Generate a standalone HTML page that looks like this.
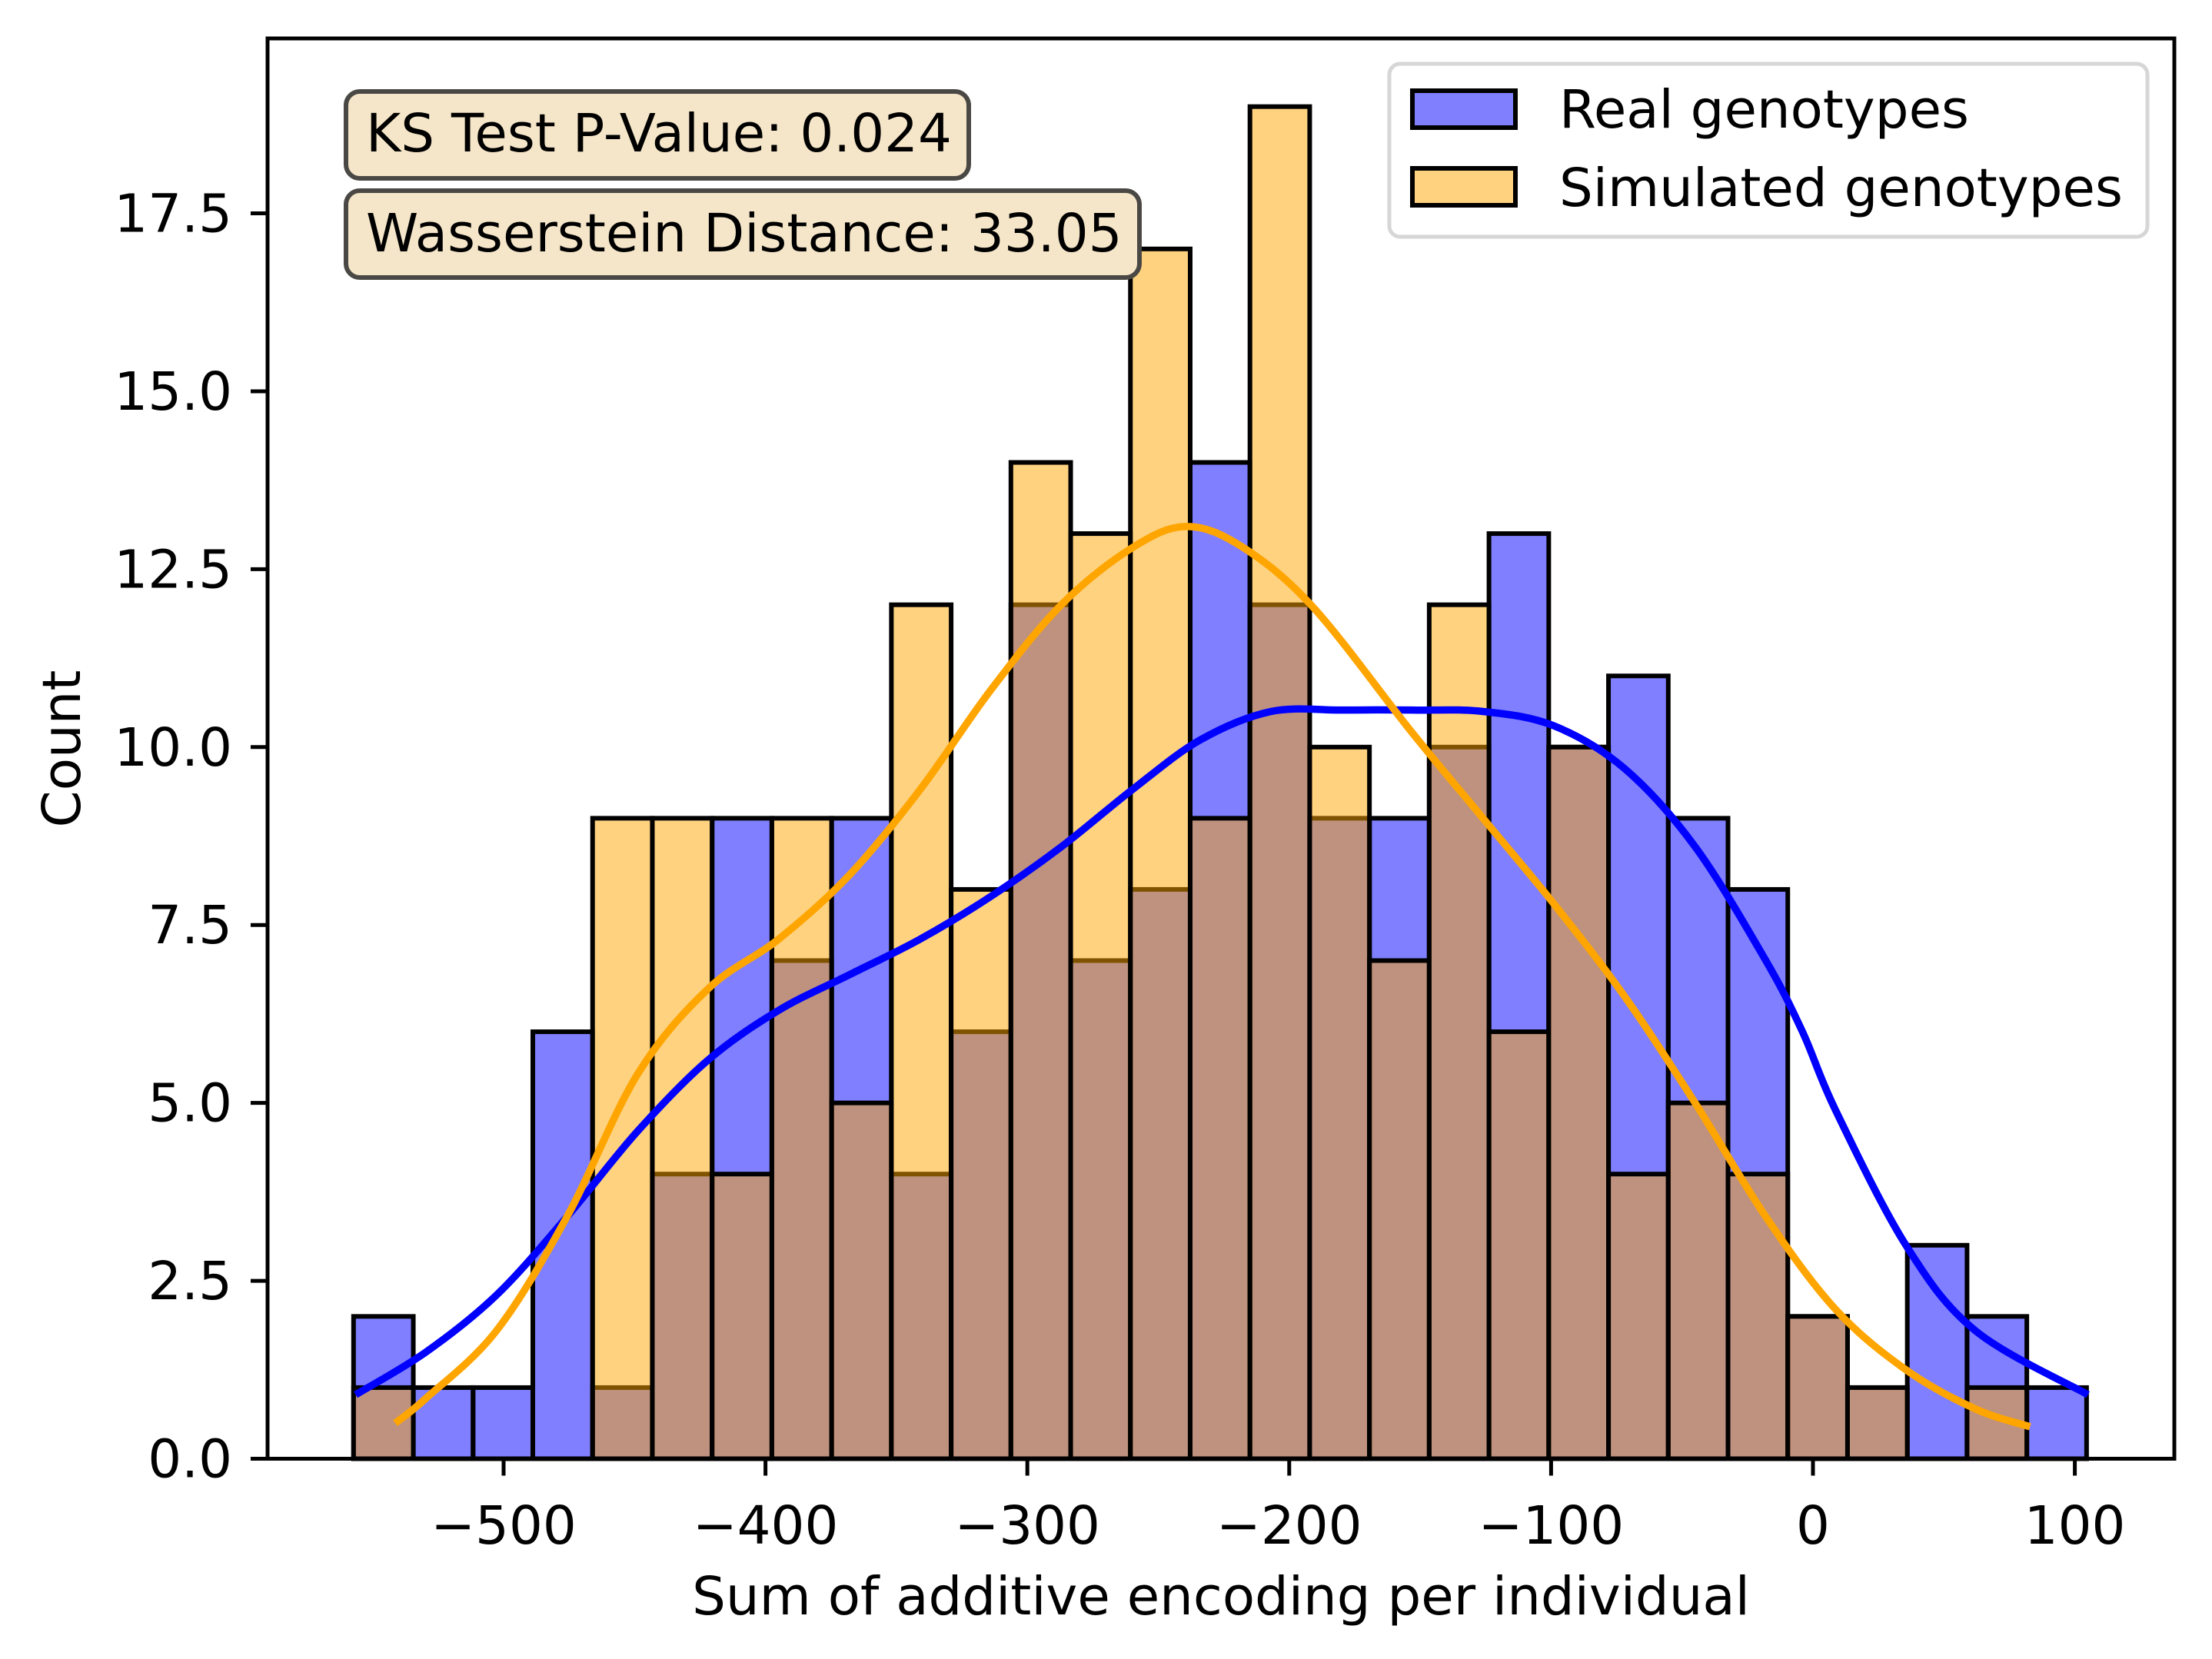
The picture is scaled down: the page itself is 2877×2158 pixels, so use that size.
<!DOCTYPE html>
<html><head><meta charset="utf-8"><style>
html,body{margin:0;padding:0;background:#fff;}
svg{display:block;font-family:"DejaVu Sans","Liberation Sans",sans-serif;}
</style></head><body>
<svg id="chart" width="2877" height="2158" viewBox="0 0 2877 2158" xmlns="http://www.w3.org/2000/svg">
<rect x="0" y="0" width="2877" height="2158" fill="#fff"/>
<g id="bars"></g>
<g id="lines"></g>
<g id="axes"></g>
<g>
<rect x="450" y="119" width="810" height="113" rx="18" fill="#f5e6c9" stroke="#4a4844" stroke-width="6"/>
<text x="476" y="197" font-size="69" fill="#000">KS Test P-Value: 0.024</text>
</g>
<g>
<rect x="450" y="248" width="1032" height="113" rx="18" fill="#f5e6c9" stroke="#4a4844" stroke-width="6"/>
<text x="476" y="327" font-size="69" fill="#000">Wasserstein Distance: 33.05</text>
</g>
<g>
<rect x="1807" y="83" width="986" height="225" rx="14" fill="#fff" fill-opacity="0.8" stroke="#d6d6d6" stroke-width="5"/>
<g>
<rect x="1837" y="118" width="134" height="48" fill="#8080ff" stroke="#000" stroke-width="6"/>
<text x="2028" y="166" font-size="69">Real genotypes</text>
</g>
<g>
<rect x="1837" y="219" width="134" height="48" fill="#ffd280" stroke="#000" stroke-width="6"/>
<text x="2028" y="268" font-size="69">Simulated genotypes</text>
</g>
</g>
</svg>
<script>
const binStart = -557.3;
const binWidth = 22.82;
const realCounts = [2,1,1,6,1,4,9,7,9,4,6,12,7,8,14,12,9,9,10,13,10,11,9,8,2,1,3,2,1];
const simCounts  = [1,0,0,0,9,9,4,9,5,12,8,14,13,17,9,19,10,7,12,6,10,4,5,4,2,1,0,1,0];
const realKdeX = [-556.5,-529.6,-502.7,-475.8,-448.9,-422,-395,-368,-341,-314,-287,-260,-234,-207,-180,-153,-126,-99,-72,-45,-18,-4,8.6,35.5,62,105];
const realKdeY = [0.9,1.5,2.3,3.4,4.6,5.6,6.3,6.8,7.3,7.9,8.6,9.4,10.1,10.5,10.52,10.52,10.5,10.3,9.7,8.6,7.0,6.0,4.9,3.0,1.8,0.9];
const simKdeX = [-541.4,-529.6,-502.7,-475.8,-448.9,-422,-395,-368,-341,-314,-287,-260,-239,-217.4,-190.5,-153,-126,-99,-72,-45,-18,8.6,35.5,62,82.9];
const simKdeY = [0.5,0.85,1.8,3.4,5.4,6.6,7.3,8.2,9.4,10.8,12.0,12.8,13.1,12.8,11.95,10.2,9.0,7.8,6.5,5.0,3.4,2.1,1.25,0.7,0.45];
const xTicks = [-500,-400,-300,-200,-100,0,100];
const yTicks = [0,2.5,5,7.5,10,12.5,15,17.5];
const yTickLabels = ["0.0","2.5","5.0","7.5","10.0","12.5","15.0","17.5"];

const NS = "http://www.w3.org/2000/svg";
const AX = {left:348, right:2828, top:50, bottom:1897.5};
function xs(v){ return 655 + (v + 500) * 3.406; }
function ys(v){ return 1897.5 - v * 92.57; }
function mk(tag, attrs, parent){ const e=document.createElementNS(NS,tag); for(const k in attrs) e.setAttribute(k,attrs[k]); parent.appendChild(e); return e; }

const bars = document.getElementById('bars');
function drawBars(counts, color, name){
  counts.forEach((c,i)=>{
    if(c<=0) return;
    const x0=xs(binStart+i*binWidth), x1=xs(binStart+(i+1)*binWidth);
    const r=mk('rect',{x:x0,y:ys(c),width:x1-x0,height:ys(0)-ys(c),fill:color,'fill-opacity':0.5,stroke:'#000','stroke-width':6},bars);
    
    
  });
}
drawBars(realCounts,'#0000ff','real');
drawBars(simCounts,'#ffa500','simulated');

const lines = document.getElementById('lines');
function smoothPath(xa, ya){
  const p = xa.map((x,i)=>[xs(x), ys(ya[i])]);
  let d = 'M'+p[0][0]+','+p[0][1];
  for(let i=0;i<p.length-1;i++){
    const p0=p[Math.max(0,i-1)], p1=p[i], p2=p[i+1], p3=p[Math.min(p.length-1,i+2)];
    const c1=[p1[0]+(p2[0]-p0[0])/6, p1[1]+(p2[1]-p0[1])/6];
    const c2=[p2[0]-(p3[0]-p1[0])/6, p2[1]-(p3[1]-p1[1])/6];
    d+=' C'+c1[0]+','+c1[1]+' '+c2[0]+','+c2[1]+' '+p2[0]+','+p2[1];
  }
  return d;
}
const l1 = mk('path',{d:smoothPath(realKdeX,realKdeY),fill:'none',stroke:'#0000ff','stroke-width':9.5,'stroke-linejoin':'round'},lines);


const l2 = mk('path',{d:smoothPath(simKdeX,simKdeY),fill:'none',stroke:'#ffa500','stroke-width':9.5,'stroke-linejoin':'round'},lines);



const axes = document.getElementById('axes');
const frame = mk('rect',{x:AX.left,y:AX.top,width:AX.right-AX.left,height:AX.bottom-AX.top,fill:'none',stroke:'#000','stroke-width':5},axes);


xTicks.forEach(v=>{
  const x=xs(v);
  const t=mk('line',{x1:x,x2:x,y1:AX.bottom,y2:AX.bottom+22,stroke:'#000','stroke-width':5},axes);
  
  
  const lb=mk('text',{x:x,y:2008,'font-size':69,'text-anchor':'middle'},axes);
  lb.textContent = (v<0?'\u2212':'')+Math.abs(v);
  
  
});
yTicks.forEach((v,i)=>{
  const y=ys(v);
  const t=mk('line',{x1:AX.left-22,x2:AX.left,y1:y,y2:y,stroke:'#000','stroke-width':5},axes);
  
  
  const lb=mk('text',{x:302,y:y+24,'font-size':69,'text-anchor':'end'},axes);
  lb.textContent = yTickLabels[i];
  
  
});
const xl=mk('text',{x:(AX.left+AX.right)/2,y:2100,'font-size':69,'text-anchor':'middle'},axes);
xl.textContent='Sum of additive encoding per individual';


const yl=mk('text',{x:0,y:0,'font-size':69,'text-anchor':'middle',transform:'translate(104,974) rotate(-90)'},axes);
yl.textContent='Count';


</script>
</body></html>
